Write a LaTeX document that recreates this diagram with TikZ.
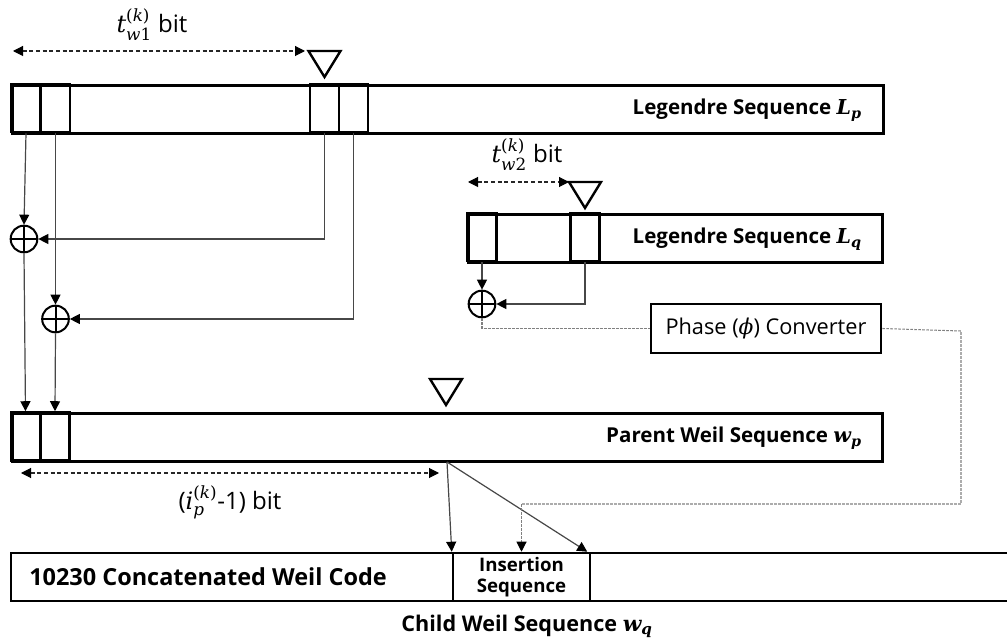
\RequirePackage{fix-cm}
\documentclass[tikz,border=0pt]{standalone}
\usepackage{amsmath}
\usepackage{fontspec}
\setmainfont{Open Sans}
\newfontfamily\symfont{DejaVu Serif}
% italic / upright serif letters used inside formulas
\newcommand{\vi}[1]{\text{\symfont\itshape #1}}
\newcommand{\vu}[1]{\text{\symfont #1}}
\usetikzlibrary{arrows.meta}

\begin{document}
\begin{tikzpicture}[x=0.75pt,y=-0.75pt,
  seqbox/.style={draw, line width=1.9pt, inner sep=0pt, minimum height=36pt, anchor=north west},
  cell/.style={draw, line width=1.9pt, minimum width=22pt, minimum height=36pt, inner sep=0pt},
  xor/.style={circle, draw, line width=1.5pt, minimum size=20pt, inner sep=0pt,
    path picture={\draw[line width=1.5pt]
      (path picture bounding box.north) -- (path picture bounding box.south)
      (path picture bounding box.west) -- (path picture bounding box.east);}},
  conn/.style={draw=black!72, line width=0.9pt},
  tip/.style={-{Triangle[length=7.5pt,width=7.5pt,color=black]}},
  spanarrow/.style={draw=black!85, line width=0.8pt, dash pattern=on 3pt off 2pt,
    {Triangle[length=7.5pt,width=7.5pt,color=black]}-{Triangle[length=7.5pt,width=7.5pt,color=black]}},
  ctrl/.style={draw=black!50, line width=0.8pt, dash pattern=on 2pt off 1pt},
  marker/.style={draw, line width=1.8pt, line join=miter},
  seqlabel/.style={font=\bfseries\fontsize{15.4}{17}\selectfont, inner sep=0pt},
  spanlabel/.style={font=\fontsize{18}{20}\selectfont, inner sep=0pt},
]
\useasboundingbox (0,0) rectangle (1007,641);

% ---------------- Legendre sequence L_p ----------------
\node[seqbox, minimum width=653.25pt] (Lp) at (11,84) {};
\node[cell] (lp1) at (26,108) {};
\node[cell] (lp2) at (55.5,108) {};
\node[cell] (lp4) at (324.5,108) {};
\node[cell] (lp5) at (353.5,108) {};
\node[seqlabel, anchor=base east] (Lplbl) at (862,115) {Legendre Sequence $\vi{L}_{\vi{p}}$};

% shift marker and span
\coordinate (m1) at (324.5,51);
\draw[marker] ([xshift=-12pt]m1) -- ([xshift=12pt]m1) -- ([yshift=-19.5pt]m1) -- cycle;
\coordinate (t1a) at (13,51);
\coordinate (t1b) at (305,51);
\draw[spanarrow] (t1a) -- (t1b);
\node[spanlabel] (t1lbl) at (152,25) {$\vi{t}_{\vi{w}\vu{1}}^{\vu{(}\vi{k}\vu{)}}$ bit};

% ---------------- XOR taps of L_p ----------------
\node[xor] (x1) at (24,239) {};
\node[xor] (x2) at (55.5,319) {};
\draw[conn, tip] (lp1.south) -- (x1.north);
\draw[conn, tip] (lp4.south) |- (x1.east);
\draw[conn, tip] (lp2.south) -- (x2.north);
\draw[conn, tip] (lp5.south) |- (x2.east);

% ---------------- Legendre sequence L_q ----------------
\node[seqbox, minimum width=310.5pt] (Lq) at (467,213) {};
\node[cell] (lq1) at (482,237) {};
\node[cell] (lq2) at (585,237) {};
\node[seqlabel, anchor=base east] (Lqlbl) at (862,244) {Legendre Sequence $\vi{L}_{\vi{q}}$};

\coordinate (m2) at (585,182);
\draw[marker] ([xshift=-12pt]m2) -- ([xshift=12pt]m2) -- ([yshift=-19.5pt]m2) -- cycle;
\coordinate (t2a) at (468,182);
\coordinate (t2b) at (569,182);
\draw[spanarrow] (t2a) -- (t2b);
\node[spanlabel] (t2lbl) at (527,155) {$\vi{t}_{\vi{w}\vu{2}}^{\vu{(}\vi{k}\vu{)}}$ bit};

\node[xor] (x3) at (482,304) {};
\draw[conn, tip] (lq1.south) -- (x3.north);
\draw[conn, tip] (lq2.south) |- (x3.east);

% ---------------- phase converter ----------------
\node[draw, line width=1.9pt, minimum width=172.5pt, minimum height=36.75pt, inner sep=0pt,
      font=\fontsize{16.3}{18}\selectfont] (ph) at (766,328.5) {Phase (\vi{ϕ}) Converter};
\draw[ctrl] (x3.south) |- (ph.west);

% ---------------- parent Weil sequence w_p ----------------
\node[seqbox, minimum width=652.5pt] (Wp) at (11,412) {};
\node[cell] (wp1) at (25.5,436.5) {};
\node[cell] (wp2) at (55,436.5) {};
\node[seqlabel, anchor=base east] (Wplbl) at (862,443) {Parent Weil Sequence $\vi{w}_{\vi{p}}$};
\draw[conn, tip] (x1.south) -- (wp1.north);
\draw[conn, tip] (x2.south) -- (wp2.north);

\coordinate (m3) at (446,379);
\draw[marker] ([xshift=-12pt]m3) -- ([xshift=12pt]m3) -- ([yshift=-19.5pt]m3) -- cycle;
\coordinate (t3a) at (21,473);
\coordinate (t3b) at (439,473);
\draw[spanarrow] (t3a) -- (t3b);
\node[spanlabel] (t3lbl) at (230,502) {($\vi{i}_{\vi{p}}^{\vu{(}\vi{k}\vu{)}}$-1) bit};

% ---------------- child Weil sequence w_q ----------------
\draw[line width=1.9pt] (1008,553) -- (11,553) -- (11,601) -- (1008,601);
\node[draw, line width=1.9pt, minimum width=102.75pt, minimum height=36pt, inner sep=0pt,
      align=center, font=\bfseries\fontsize{14}{15.5}\selectfont] (ins) at (521.5,577) {Insertion\\Sequence};
\node[font=\bfseries\fontsize{17.6}{19}\selectfont, anchor=west, inner sep=0pt] (cwc) at (29,577) {10230 Concatenated Weil Code};
\node[font=\bfseries\fontsize{16.2}{18}\selectfont, inner sep=0pt, anchor=base] (Wqlbl) at (527,631) {Child Weil Sequence $\vi{w}_{\vi{q}}$};

% insertion point of the parent sequence
\coordinate (pins) at (447,462);
\draw[conn, tip] (pins) -- (ins.north west);
\draw[conn, tip] (pins) -- ([xshift=-3pt]ins.north east);

% phase-converted sequence routed into the insertion slot
\coordinate (c1) at (961,331);
\coordinate (c2) at (961,504);
\coordinate (c3) at (ins.north |- c2);
\draw[ctrl] (ph.east) -- (c1) -- (c2) -- (c3);
\draw[ctrl, tip] (c3) -- (ins.north);
\end{tikzpicture}
\end{document}
